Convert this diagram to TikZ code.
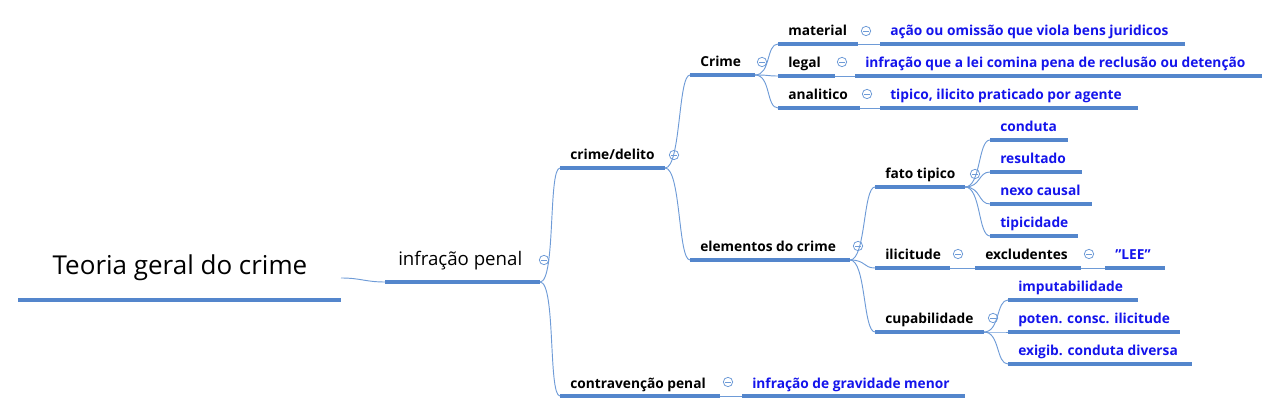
\documentclass[tikz,border=0pt]{standalone}
\usepackage{fontspec}
\setmainfont{Open Sans}
\definecolor{ul}{RGB}{84,134,204}
\definecolor{ln}{RGB}{110,155,215}
\definecolor{vb}{RGB}{20,20,235}
\tikzset{
  lab/.style={anchor=base west,inner sep=0pt,font=\bfseries\fontsize{10.3}{11}\selectfont},
  val/.style={lab,text=vb},
  conn/.style={draw=ln,line width=0.7pt},
  uline/.style={draw=ul,line width=2.3pt},
  tog/.style={circle,draw=ln,line width=0.6pt,minimum size=7pt,inner sep=0pt,
    path picture={\draw[ln,line width=0.6pt] ([xshift=-2pt]path picture bounding box.center)--([xshift=2pt]path picture bounding box.center);}}
}
% \br{name}{x1}{x2}{y}{text}{style}
\newcommand\br[6]{%
  \coordinate (#1-s) at (#2,#4);
  \coordinate (#1-e) at (#3,#4);
  \draw[uline] (#1-s) -- (#1-e);
  \node[#6] (#1) at (#2+10,#4-8) {#5};}
\newcommand\tg[3]{\node[tog] (#1-t) at (#2,#3) {};}
\newcommand\cn[2]{\draw[conn] (#1-e) .. controls +(16,0) and +(-12,0) .. (#2-s);}
\begin{document}
\begin{tikzpicture}[x=0.75pt,y=-0.75pt]
\useasboundingbox (0,0) rectangle (1279,413);
% root
\coordinate (root-s) at (18,300);
\coordinate (root-e) at (341,300);
\draw[ul,line width=3pt] (root-s) -- (root-e);
\node[inner sep=0pt,font=\fontsize{19.5}{21}\selectfont] (root) at (180,268) {Teoria geral do crime};
\coordinate (root-c) at (341,278);
% infracao
\br{ip}{385}{540}{282}{}{lab}
\node[anchor=base west,inner sep=0pt,font=\fontsize{14}{16}\selectfont] at (398,266) {infração penal};
\tg{ip}{544}{260}
\draw[conn] (root-c) .. controls +(20,0) and +(-20,0) .. (ip-s);
% level 2
\br{cd}{560}{665}{168}{crime/delito}{lab} \tg{cd}{674}{155}
\br{cp}{560}{720}{396}{contravenção penal}{lab} \tg{cp}{728}{382}
\cn{ip}{cd} \cn{ip}{cp}
\br{cpv}{742}{965}{396}{infração de gravidade menor}{val}
\draw[conn] (cp-e) -- (cpv-s);
% Crime
\br{cr}{690}{755}{75}{Crime}{lab} \tg{cr}{762}{62}
\br{el}{690}{850}{260}{elementos do crime}{lab} \tg{el}{858}{246}
\cn{cd}{cr} \cn{cd}{el}
\br{ma}{778}{858}{44}{material}{lab} \tg{ma}{866}{31}
\br{le}{778}{835}{76}{legal}{lab} \tg{le}{842}{62}
\br{an}{778}{860}{108}{analitico}{lab} \tg{an}{867}{94}
\cn{cr}{ma} \cn{cr}{le} \cn{cr}{an}
\br{mav}{880}{1185}{44}{ação ou omissão que viola bens juridicos}{val}
\br{lev}{855}{1262}{76}{infração que a lei comina pena de reclusão ou detenção}{val}
\br{anv}{880}{1138}{108}{tipico, ilicito praticado por agente}{val}
\draw[conn] (ma-e) -- (mav-s); \draw[conn] (le-e) -- (lev-s); \draw[conn] (an-e) -- (anv-s);
% elementos
\br{ft}{875}{965}{187}{fato tipico}{lab} \tg{ft}{975}{174}
\br{il}{875}{950}{268}{ilicitude}{lab} \tg{il}{958}{254}
\br{cu}{875}{984}{332}{cupabilidade}{lab} \tg{cu}{993}{318}
\cn{el}{ft} \cn{el}{il} \cn{el}{cu}
\br{co}{990}{1068}{140}{conduta}{val}
\br{re}{990}{1082}{172}{resultado}{val}
\br{nc}{990}{1092}{204}{nexo causal}{val}
\br{ti}{990}{1078}{236}{tipicidade}{val}
\cn{ft}{co} \cn{ft}{re} \cn{ft}{nc} \cn{ft}{ti}
\br{ex}{975}{1081}{268}{excludentes}{lab} \tg{ex}{1089}{254}
\br{lee}{1105}{1165}{268}{\symbol{34}LEE\symbol{34}}{val}
\draw[conn] (il-e) -- (ex-s); \draw[conn] (ex-e) -- (lee-s);
\br{im}{1008}{1138}{300}{imputabilidade}{val}
\br{po}{1008}{1180}{332}{poten. consc. ilicitude}{val}
\br{eg}{1008}{1192}{364}{exigib. conduta diversa}{val}
\cn{cu}{im} \cn{cu}{po} \cn{cu}{eg}
\end{tikzpicture}
\end{document}
